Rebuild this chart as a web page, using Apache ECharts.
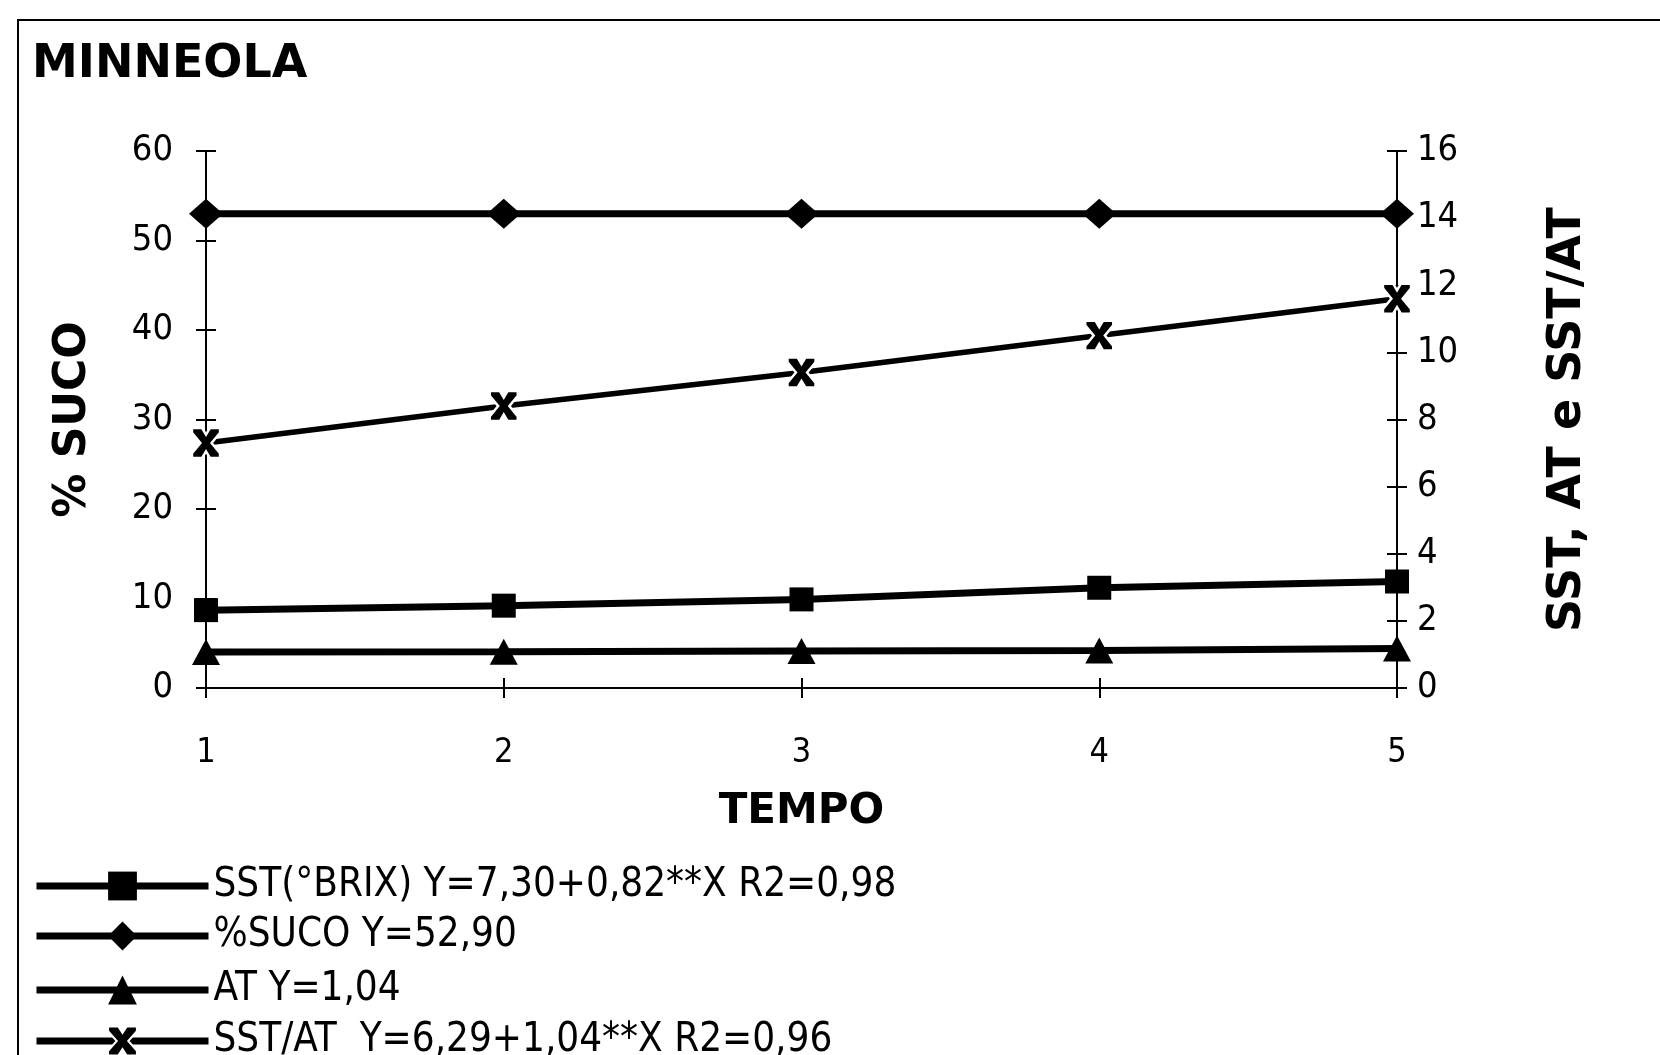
<!DOCTYPE html>
<html>
<head>
<meta charset="utf-8">
<title>MINNEOLA</title>
<script src="https://cdn.jsdelivr.net/npm/echarts@6/dist/echarts.min.js"></script>
<style>
    html, body { margin: 0; padding: 0; background: #fff; }
    #chart { width: 1660px; height: 1055px; }
</style>
</head>
<body>
<div id="chart"></div>
<script>
// dados
var tempo = ['1', '2', '3', '4', '5'];
var sstBrix = [8.7, 9.2, 9.9, 11.2, 11.9];     // eixo esquerdo
var pctSuco = [53.0, 53.0, 53.0, 53.0, 53.0];  // eixo esquerdo
var atVals = [1.07, 1.08, 1.10, 1.12, 1.18];   // eixo direito
var sstAt = [7.3, 8.4, 9.4, 10.5, 11.6];       // eixo direito

var leftMin = 0, leftMax = 60, leftStep = 10;
var rightMin = 0, rightMax = 16, rightStep = 2;

var legendNames = [
    'SST(°BRIX) Y=7,30+0,82**X R2=0,98',
    '%SUCO Y=52,90',
    'AT Y=1,04',
    'SST/AT  Y=6,29+1,04**X R2=0,96'
];

var narrow = "'Liberation Sans Narrow', 'DejaVu Sans Condensed', sans-serif";
var boldFont = "'DejaVu Sans', sans-serif";
var starPath = 'path://M0,0 L3.6,0 L5,2.2 L6.4,0 L10,0 L10,1.6 L7,5 L10,8.4 L10,10 L6.4,10 L5,7.8 L3.6,10 L0,10 L0,8.4 L3,5 L0,1.6 Z';

var chart = echarts.init(document.getElementById('chart'));

function lineSerie(name, data, yIdx, symbol, size, width) {
    return {
        name: name,
        type: 'line',
        yAxisIndex: yIdx,
        data: data,
        symbol: symbol,
        symbolSize: size,
        showAllSymbol: true,
        lineStyle: {color: '#000', width: width},
        itemStyle: {color: '#000'},
        emphasis: {disabled: true},
        animation: false
    };
}

// uma legenda por linha, empilhadas
var legendTops = [861, 911, 965, 1016];
function legendRow(i) {
    return {
        left: 28,
        top: legendTops[i],
        itemWidth: 172,
        itemHeight: 36,
        itemGap: 0,
        lineStyle: {width: 7},
        selectedMode: false,
        data: [legendNames[i]],
        textStyle: {fontFamily: narrow, fontSize: 40, color: '#000'}
    };
}

var starSerie = lineSerie(legendNames[3], sstAt, 1, starPath, [28, 30], 5.5);
starSerie.itemStyle = {color: '#000', borderColor: '#fff', borderWidth: 2.5};

var option = {
    backgroundColor: '#fff',
    graphic: [
        {
            type: 'rect',
            shape: {x: 18, y: 20, width: 1700, height: 1100},
            style: {fill: 'none', stroke: '#000', lineWidth: 2},
            silent: true
        },
        {
            type: 'text',
            left: 32,
            top: 42,
            style: {text: 'MINNEOLA', fontFamily: boldFont, fontWeight: 'bold', fontSize: 46, fill: '#000'}
        }
    ],
    grid: {left: 206, right: 263, top: 151, bottom: 367},
    legend: [legendRow(0), legendRow(1), legendRow(2), legendRow(3)],
    xAxis: [
        {
            type: 'category',
            data: tempo,
            boundaryGap: false,
            name: 'TEMPO',
            nameLocation: 'middle',
            nameGap: 103,
            nameTextStyle: {fontFamily: boldFont, fontWeight: 'bold', fontSize: 42, color: '#000'},
            axisLine: {lineStyle: {color: '#000', width: 2}},
            axisTick: {show: true, length: 10, lineStyle: {color: '#000', width: 2}},
            axisLabel: {margin: 48, fontFamily: narrow, fontSize: 34, color: '#000'},
            splitLine: {show: false}
        },
        {
            type: 'category',
            data: tempo,
            boundaryGap: false,
            position: 'bottom',
            axisLine: {show: false},
            axisTick: {show: true, inside: true, length: 10, lineStyle: {color: '#000', width: 2}},
            axisLabel: {show: false},
            splitLine: {show: false}
        }
    ],
    yAxis: [
        {
            type: 'value',
            min: leftMin, max: leftMax, interval: leftStep,
            position: 'left',
            name: '% SUCO',
            nameLocation: 'middle',
            nameRotate: 90,
            nameGap: 110,
            nameTextStyle: {fontFamily: boldFont, fontWeight: 'bold', fontSize: 44, color: '#000'},
            axisLine: {show: true, lineStyle: {color: '#000', width: 2}},
            axisTick: {show: true, length: 10, lineStyle: {color: '#000', width: 2}},
            axisLabel: {margin: 33, fontFamily: narrow, fontSize: 36, color: '#000'},
            splitLine: {show: false}
        },
        {
            type: 'value',
            min: rightMin, max: rightMax, interval: rightStep,
            position: 'right',
            name: 'SST, AT e SST/AT',
            nameLocation: 'middle',
            nameRotate: 90,
            nameGap: 148,
            nameTextStyle: {fontFamily: boldFont, fontWeight: 'bold', fontSize: 46, color: '#000'},
            axisLine: {show: true, lineStyle: {color: '#000', width: 2}},
            axisTick: {show: true, length: 10, lineStyle: {color: '#000', width: 2}},
            axisLabel: {margin: 20, fontFamily: narrow, fontSize: 36, color: '#000'},
            splitLine: {show: false}
        },
        {
            type: 'value',
            min: leftMin, max: leftMax, interval: leftStep,
            position: 'left',
            axisLine: {show: false},
            axisTick: {show: true, inside: true, length: 10, lineStyle: {color: '#000', width: 2}},
            axisLabel: {show: false},
            splitLine: {show: false}
        },
        {
            type: 'value',
            min: rightMin, max: rightMax, interval: rightStep,
            position: 'right',
            axisLine: {show: false},
            axisTick: {show: true, inside: true, length: 10, lineStyle: {color: '#000', width: 2}},
            axisLabel: {show: false},
            splitLine: {show: false}
        }
    ],
    series: [
        lineSerie(legendNames[0], sstBrix, 0, 'rect', 24, 7),
        lineSerie(legendNames[1], pctSuco, 0, 'diamond', [34, 30], 7),
        lineSerie(legendNames[2], atVals, 1, 'triangle', [28, 26], 7),
        starSerie
    ]
};

chart.setOption(option);
</script>
</body>
</html>
